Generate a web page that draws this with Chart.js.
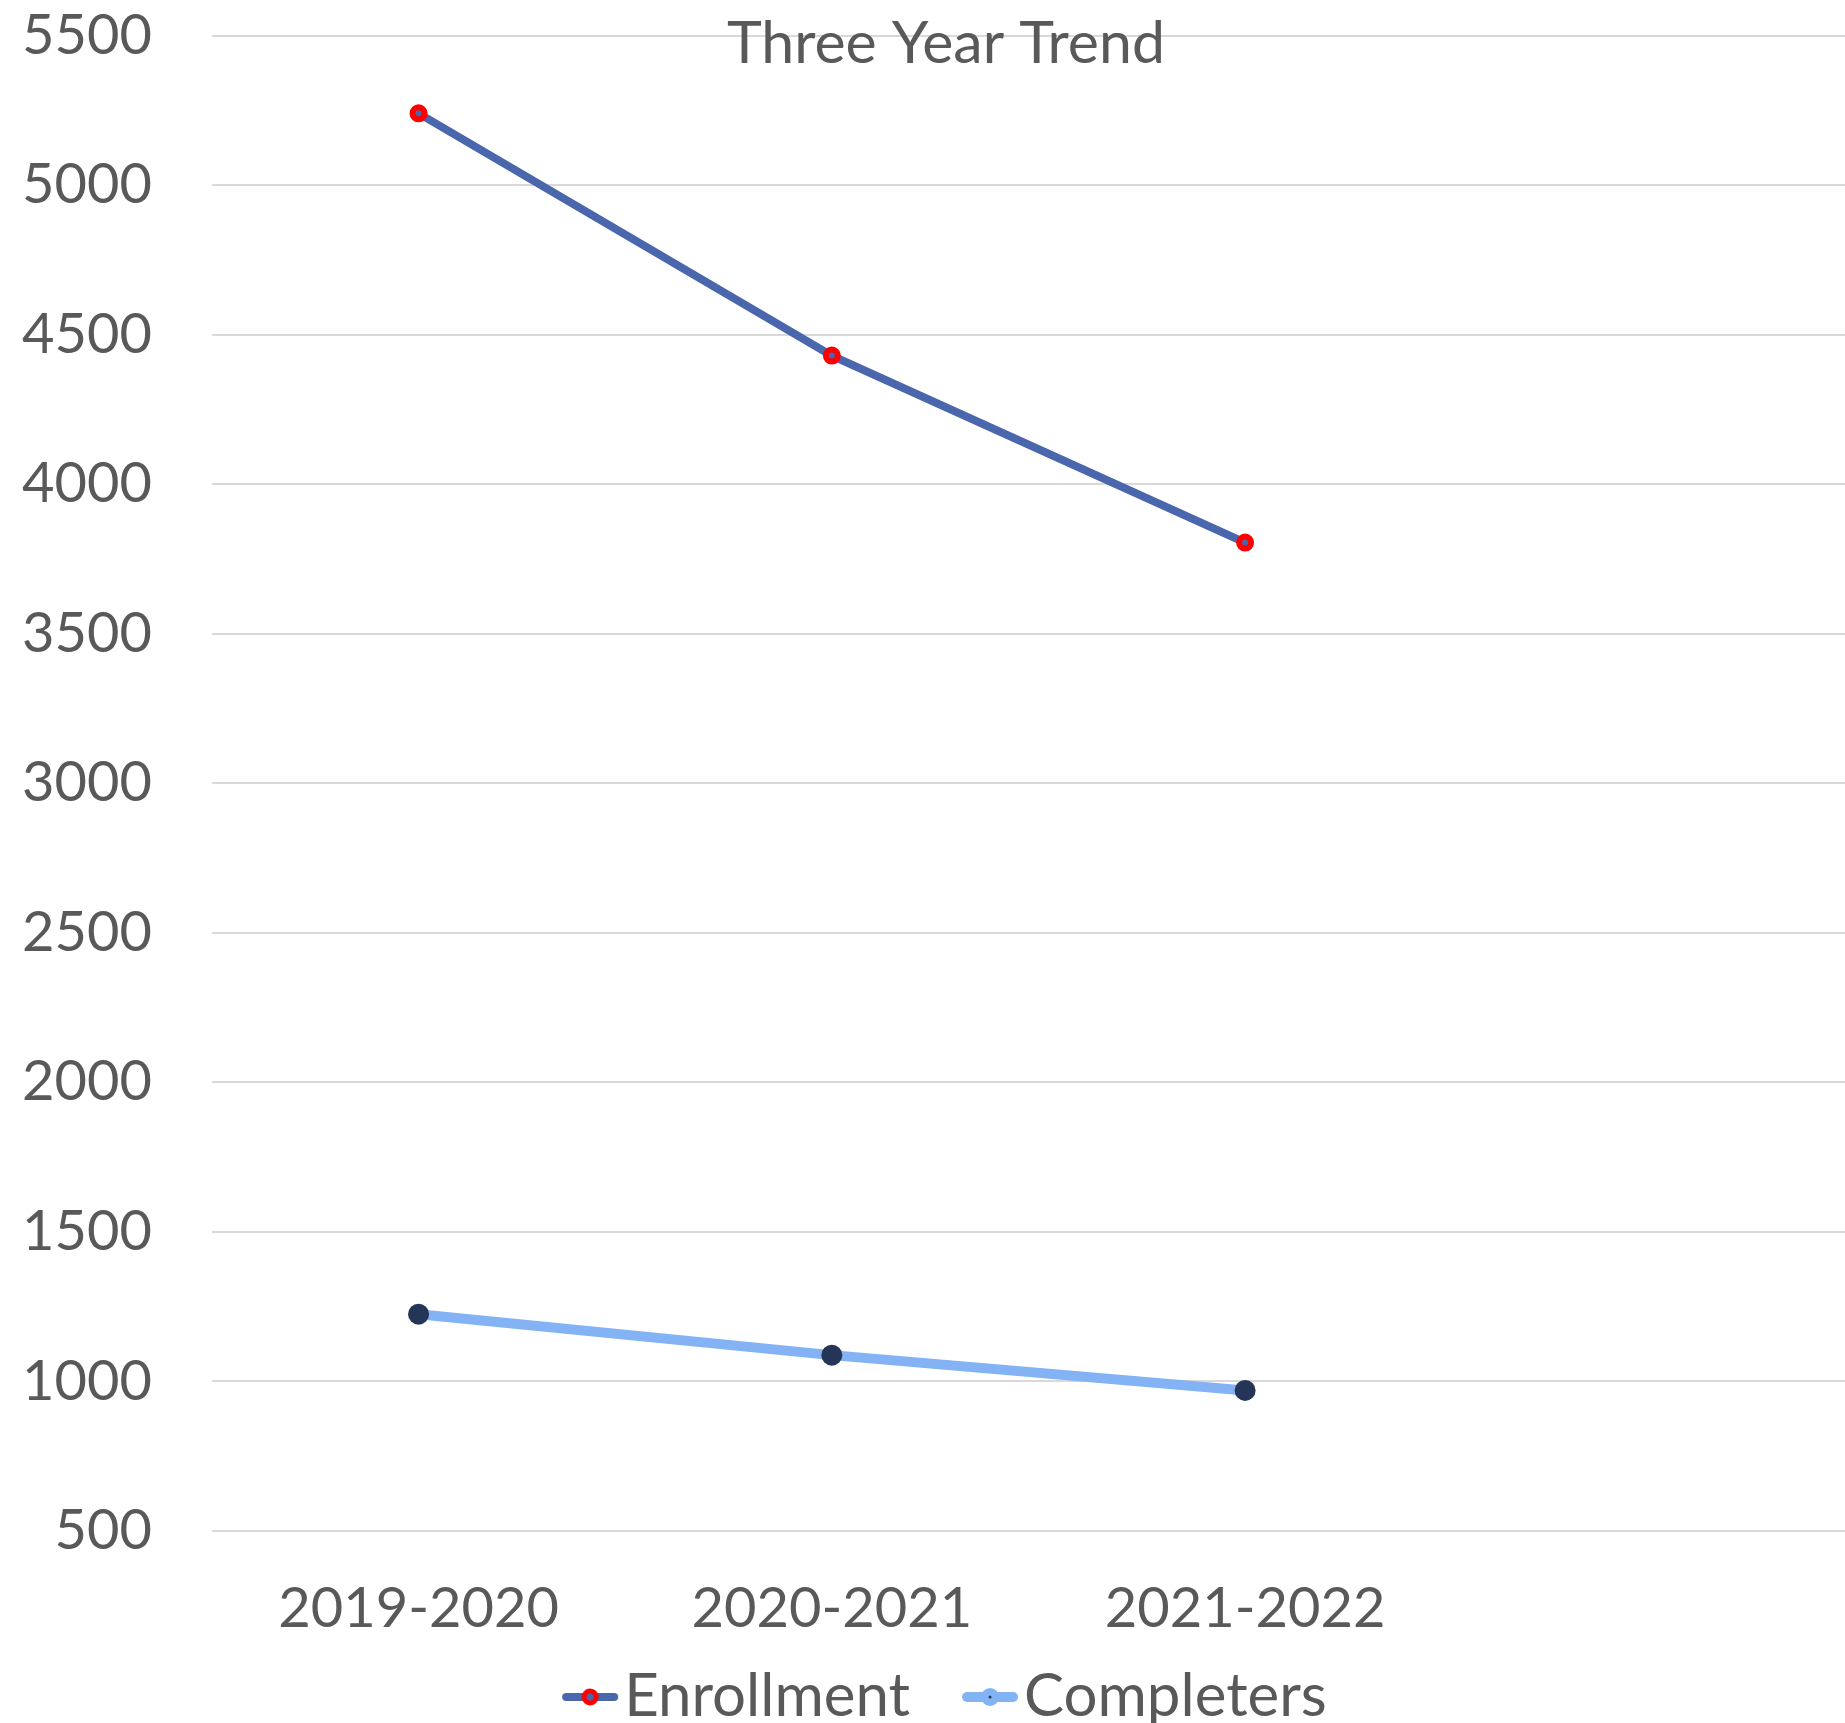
<!DOCTYPE html>
<html>
<head>
<meta charset="utf-8">
<script src="https://cdn.jsdelivr.net/npm/chart.js@4/dist/chart.umd.min.js"></script>
<style>
html,body{margin:0;padding:0;background:#fff;overflow:hidden;}
#wrap{width:1845px;height:1723px;position:relative;}
canvas{display:block;}
</style>
</head>
<body>
<div id="wrap"><canvas id="c" width="1845" height="1723"></canvas></div>
<script>
const categories = ['2019-2020', '2020-2021', '2021-2022', ''];
const enrollment = [5240, 4430, 3805, null];
const completers = [1225, 1088, 970, null];
const yTicks = [500, 1000, 1500, 2000, 2500, 3000, 3500, 4000, 4500, 5000, 5500];
const titleText = 'Three Year Trend';

const FONT = 'Lato, "Open Sans", sans-serif';
const TXT = '#595959';
const ENR_LINE = '#4a66ac';
const CMP_LINE = '#83b3f5';

function legendIcon(kind) {
  // icon drawn in the right part of a wider transparent canvas
  const cv = document.createElement('canvas');
  cv.width = 130; cv.height = 30;
  const g = cv.getContext('2d');
  const x0 = 65 - 5, x1 = 65 + 51, cx = (x0 + x1) / 2, cy = 15;
  g.lineCap = 'round';
  if (kind === 'enr') {
    g.strokeStyle = ENR_LINE; g.lineWidth = 8;
    g.beginPath(); g.moveTo(x0 + 4, cy); g.lineTo(x1 - 4, cy); g.stroke();
    g.beginPath(); g.arc(cx, cy, 6, 0, Math.PI * 2);
    g.fillStyle = ENR_LINE; g.fill();
    g.lineWidth = 5; g.strokeStyle = '#ff0000'; g.stroke();
  } else {
    g.strokeStyle = CMP_LINE; g.lineWidth = 10;
    g.beginPath(); g.moveTo(x0 + 5, cy); g.lineTo(x1 - 5, cy); g.stroke();
    g.beginPath(); g.arc(cx, cy, 9, 0, Math.PI * 2);
    g.fillStyle = CMP_LINE; g.fill();
    g.beginPath(); g.arc(cx, cy, 1.5, 0, Math.PI * 2);
    g.fillStyle = '#253558'; g.fill();
  }
  return cv;
}
const iconEnroll = legendIcon('enr');
const iconComp = legendIcon('cmp');

const titlePlugin = {
  id: 'overlayTitle',
  afterDraw(chart) {
    const ctx = chart.ctx;
    ctx.save();
    ctx.font = '59px ' + FONT;
    ctx.fillStyle = TXT;
    ctx.textAlign = 'center';
    ctx.textBaseline = 'middle';
    ctx.fillText(titleText, chart.width * 0.5127, 44);
    ctx.restore();
  }
};

// the category axis continues a little past the right edge of the picture
const extendX = {
  id: 'extendX',
  afterLayout(chart) {
    const x = chart.scales.x;
    x.right += 20;
    x.width += 20;
    x.configure();
  }
};

new Chart(document.getElementById('c'), {
  type: 'line',
  data: {
    labels: categories,
    datasets: [
      {
        label: 'Enrollment',
        data: enrollment,
        borderColor: ENR_LINE,
        backgroundColor: ENR_LINE,
        borderWidth: 8,
        pointRadius: 6,
        pointBorderWidth: 6,
        pointBorderColor: '#ff0000',
        pointBackgroundColor: ENR_LINE,
        pointStyle: 'circle',
        tension: 0,
        legendIcon: iconEnroll
      },
      {
        label: 'Completers',
        data: completers,
        borderColor: CMP_LINE,
        backgroundColor: CMP_LINE,
        borderWidth: 10,
        pointRadius: 10.5,
        pointBorderWidth: 0,
        pointBorderColor: '#253558',
        pointBackgroundColor: '#253558',
        pointStyle: 'circle',
        tension: 0,
        legendIcon: iconComp
      }
    ]
  },
  plugins: [titlePlugin, extendX],
  options: {
    responsive: false,
    animation: false,
    devicePixelRatio: 1,
    layout: { autoPadding: false, padding: { left: 22, right: 0, top: 0, bottom: -14 } },
    plugins: {
      tooltip: { enabled: false },
      title: { display: false },
      legend: {
        position: 'bottom',
        labels: {
          color: TXT,
          font: { family: FONT, size: 60 },
          usePointStyle: true,
          pointStyleWidth: 54,
          padding: 30,
          boxHeight: 30,
          generateLabels(chart) {
            return chart.data.datasets.map((ds, i) => ({
              text: ds.label,
              fillStyle: ds.borderColor,
              strokeStyle: ds.borderColor,
              lineWidth: 0,
              pointStyle: ds.legendIcon,
              hidden: !chart.isDatasetVisible(i),
              datasetIndex: i,
              fontColor: TXT
            }));
          }
        }
      }
    },
    scales: {
      x: {
        offset: true,
        grid: { display: false },
        border: { display: false },
        ticks: { color: TXT, font: { family: FONT, size: 56, lineHeight: 1 }, padding: 42, maxRotation: 0, autoSkip: false },
        afterFit(axis) {
          axis.height -= 42;
          axis.paddingLeft = 0;
          axis.paddingRight = 0;
        }
      },
      y: {
        min: yTicks[0],
        max: yTicks[yTicks.length - 1],
        afterBuildTicks(axis) { axis.ticks = yTicks.map(v => ({ value: v })); },
        grid: { color: '#d9d9d9', lineWidth: 2, drawTicks: false },
        border: { display: false },
        ticks: { color: TXT, font: { family: FONT, size: 56 }, padding: 60, callback: v => String(v) },
        afterFit(axis) {
          axis.width -= 60;
          axis.paddingTop -= 58;
          axis.paddingBottom -= 60;
        }
      }
    }
  }
});
</script>
</body>
</html>
